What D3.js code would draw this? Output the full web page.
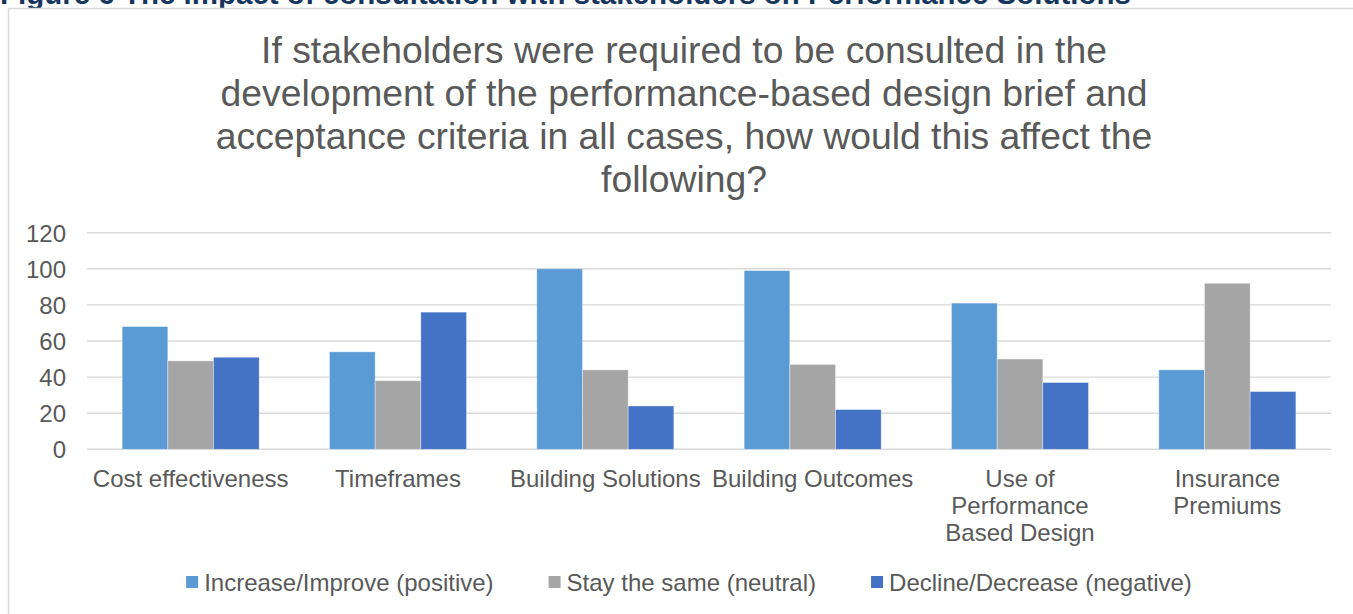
<!DOCTYPE html>
<html>
<head>
<meta charset="utf-8">
<script src="https://cdn.jsdelivr.net/npm/d3@7"></script>
<style>
  body { margin: 0; background: #fff; }
  svg { display: block; }
  text { font-family: "Liberation Sans", Arial, sans-serif; }
</style>
</head>
<body>
<div id="chart"></div>
<script>
// data
const categories = ["Cost effectiveness", "Timeframes", "Building Solutions", "Building Outcomes", "Use of Performance Based Design", "Insurance Premiums"];
const seriesNames = ["Increase/Improve (positive)", "Stay the same (neutral)", "Decline/Decrease (negative)"];
const increaseValues = [68, 54, 100, 99, 81, 44];
const sameValues = [49, 38, 44, 47, 50, 92];
const declineValues = [51, 76, 24, 22, 37, 32];
const yTicks = [0, 20, 40, 60, 80, 100, 120];
const titleLines = [
  "If stakeholders were required to be consulted in the",
  "development of the performance-based design brief and",
  "acceptance criteria in all cases, how would this affect the",
  "following?"
];
const caption = "Figure 6 The impact of consultation with stakeholders on Performance Solutions";
const colors = ["#5B9BD5", "#A5A5A5", "#4472C4"];

const W = 1353, H = 614;
const plot = { left: 87, right: 1331, top: 232.7, bottom: 449.3 };
const textGrey = "#595959";
const gridGrey = "#D9D9D9";

const svg = d3.select("#chart").append("svg")
  .attr("width", W)
  .attr("height", H);

// caption of the figure, cut off by the top of the page
svg.append("text")
  .attr("x", 0)
  .attr("y", 3.5)
  .style("font-size", "29.5px")
  .style("font-weight", "bold")
  .style("fill", "#17365D")
  .text(caption);

// chart frame (runs past the right and bottom of the window)
svg.append("rect")
  .attr("x", 8.5)
  .attr("y", 8.5)
  .attr("width", 1352)
  .attr("height", 640)
  .attr("fill", "#fff")
  .attr("stroke", gridGrey)
  .attr("stroke-width", 1.5);

const centerX = 684;

svg.append("g").selectAll("text")
  .data(titleLines)
  .join("text")
    .attr("x", centerX)
    .attr("y", (d, i) => 63.3 + i * 43)
    .attr("text-anchor", "middle")
    .style("font-size", "37.3px")
    .style("fill", textGrey)
    .text(d => d);

const y = d3.scaleLinear().domain([0, 120]).range([plot.bottom, plot.top]);
const x0 = d3.scaleBand()
  .domain(categories)
  .range([plot.left, plot.right])
  .paddingInner(0.339)
  .paddingOuter(0.1695);
const x1 = d3.scaleBand()
  .domain(seriesNames)
  .range([0, x0.bandwidth()]);

// gridlines
svg.append("g").selectAll("line")
  .data(yTicks)
  .join("line")
    .attr("x1", plot.left)
    .attr("x2", plot.right)
    .attr("y1", d => y(d))
    .attr("y2", d => y(d))
    .attr("stroke", gridGrey)
    .attr("stroke-width", 1.4);

// y axis labels
const yAxis = svg.append("g")
  .attr("transform", `translate(${plot.left - 21}, 0)`)
  .call(d3.axisLeft(y).tickValues(yTicks).tickSize(0).tickPadding(0));
yAxis.select(".domain").remove();
yAxis.selectAll("text")
  .style("font-size", "24px")
  .style("font-family", "'Liberation Sans', Arial, sans-serif")
  .style("fill", textGrey)
  .attr("dy", "0.35em");

// bars
const rows = categories.map((c, i) => ({
  category: c,
  values: [increaseValues[i], sameValues[i], declineValues[i]]
}));

svg.append("g").selectAll("g")
  .data(rows)
  .join("g")
    .attr("transform", d => `translate(${x0(d.category)}, 0)`)
  .selectAll("rect")
  .data(d => d.values.map((v, j) => ({ series: seriesNames[j], value: v, j })))
  .join("rect")
    .attr("x", d => x1(d.series))
    .attr("y", d => y(d.value))
    .attr("width", x1.bandwidth())
    .attr("height", d => y(0) - y(d.value))
    .attr("fill", d => colors[d.j])
    .attr("stroke", "#fff")
    .attr("stroke-opacity", 0.45)
    .attr("stroke-width", 0.8);

// category labels, wrapped to the band step like Excel does
const xLabels = svg.append("g").selectAll("text")
  .data(categories)
  .join("text")
    .attr("x", d => x0(d) + x0.bandwidth() / 2)
    .attr("y", 487)
    .attr("text-anchor", "middle")
    .style("font-size", "24px")
    .style("fill", textGrey);

xLabels.each(function (d) {
  const el = d3.select(this);
  const words = d.split(" ");
  const maxW = x0.step();
  let lines = [];
  let line = [];
  const probe = el.append("tspan");
  words.forEach(w => {
    const test = [...line, w].join(" ");
    probe.text(test);
    if (probe.node().getComputedTextLength() > maxW && line.length) {
      lines.push(line.join(" "));
      line = [w];
    } else {
      line.push(w);
    }
  });
  lines.push(line.join(" "));
  probe.remove();
  lines.forEach((l, i) => {
    el.append("tspan")
      .attr("x", x0(d) + x0.bandwidth() / 2)
      .attr("dy", i === 0 ? 0 : 27.2)
      .text(l);
  });
});

// legend
const legend = svg.append("g");
const items = legend.selectAll("g")
  .data(seriesNames)
  .join("g");

items.append("rect")
  .attr("width", 12)
  .attr("height", 12)
  .attr("y", 576)
  .attr("fill", (d, i) => colors[i]);

items.append("text")
  .attr("x", 18)
  .attr("y", 590.5)
  .style("font-size", "24px")
  .style("fill", textGrey)
  .text(d => d);

let offset = 0;
const itemGap = 55;
items.each(function () {
  const g = d3.select(this);
  g.attr("transform", `translate(${offset}, 0)`);
  offset += g.node().getBBox().width + itemGap;
});
const legendWidth = offset - itemGap;
legend.attr("transform", `translate(${689 - legendWidth / 2}, 0)`);
</script>
</body>
</html>
